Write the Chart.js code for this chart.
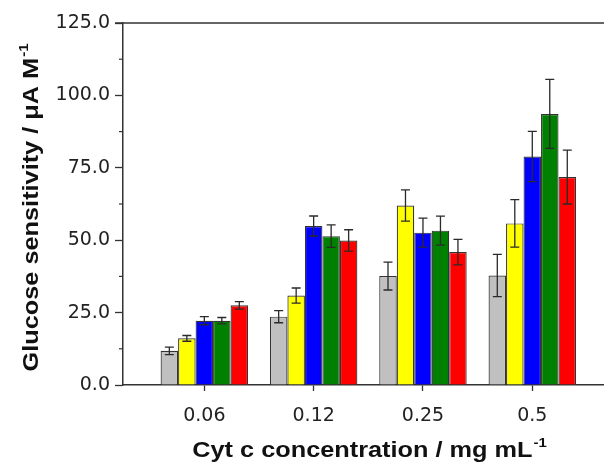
<!DOCTYPE html>
<html>
<head>
<meta charset="utf-8">
<script src="https://cdn.jsdelivr.net/npm/chart.js@4.4.0/dist/chart.umd.min.js"></script>
<style>
  html, body { margin: 0; padding: 0; background: #fff; }
  #wrap { width: 604px; height: 462px; }
</style>
</head>
<body>
<div id="wrap"><canvas id="chartGlucose" width="604" height="462"></canvas></div>
<script>
// concentraciones (eje x)
var concLabels = ['0.06', '0.12', '0.25', '0.5'];
var groupPos = [1, 2, 3, 4];

// valores de cada serie y sus barras de error
var graySeries = [11.8, 23.6, 37.6, 37.8];
var grayErr = [1.3, 2.1, 4.8, 7.3];
var yellowSeries = [16.1, 30.9, 62.0, 55.8];
var yellowErr = [1.0, 2.6, 5.4, 8.2];
var blueSeries = [22.2, 54.9, 52.6, 78.9];
var blueErr = [1.4, 3.45, 5.0, 8.7];
var greenSeries = [22.2, 51.4, 53.3, 93.6];
var greenErr = [1.1, 3.9, 5.0, 11.9];
var redSeries = [27.5, 49.9, 45.9, 71.8];
var redErr = [1.3, 3.7, 4.4, 9.3];

var yTicks = [0, 25, 50, 75, 100, 125];

function toPoints(values) {
    return values.map(function(v, i) { return { x: groupPos[i], y: v }; });
}

function makeSet(values, errs, color) {
    return {
        data: toPoints(values),
        errors: errs,
        backgroundColor: color,
        borderColor: '#333',
        borderWidth: 1.2,
        categoryPercentage: 0.8,
        barPercentage: 1.0
    };
}

// barras de error
var errorBars = {
    id: 'errorBars',
    afterDatasetsDraw: function(chart) {
        var ctx = chart.ctx;
        var yScale = chart.scales.y;
        ctx.save();
        ctx.strokeStyle = '#2a2a2a';
        ctx.lineWidth = 1.3;
        chart.data.datasets.forEach(function(ds, i) {
            var meta = chart.getDatasetMeta(i);
            meta.data.forEach(function(bar, j) {
                var v = ds.data[j].y, e = ds.errors[j];
                var yTop = yScale.getPixelForValue(v + e);
                var yBot = yScale.getPixelForValue(v - e);
                ctx.beginPath();
                ctx.moveTo(bar.x, yTop); ctx.lineTo(bar.x, yBot);
                ctx.moveTo(bar.x - 4.5, yTop); ctx.lineTo(bar.x + 4.5, yTop);
                ctx.moveTo(bar.x - 4.5, yBot); ctx.lineTo(bar.x + 4.5, yBot);
                ctx.stroke();
            });
        });
        ctx.restore();
    }
};

// marco superior, ticks menores y titulos de ejes
var frameAndTitles = {
    id: 'frameAndTitles',
    afterDraw: function(chart) {
        var ctx = chart.ctx;
        var area = chart.chartArea;
        var yScale = chart.scales.y;
        ctx.save();
        ctx.strokeStyle = '#333';
        ctx.lineWidth = 1.5;
        ctx.beginPath();
        ctx.moveTo(area.left - 8, area.top);
        ctx.lineTo(area.right, area.top);
        ctx.stroke();
        // ticks menores
        ctx.lineWidth = 1.2;
        for (var k = 0; k < yTicks.length - 1; k++) {
            var py = yScale.getPixelForValue(yTicks[k] + 12.5);
            ctx.beginPath();
            ctx.moveTo(area.left - 4, py);
            ctx.lineTo(area.left, py);
            ctx.stroke();
        }
        ctx.fillStyle = '#111';
        // titulo eje y
        ctx.save();
        ctx.translate(38, 208);
        ctx.rotate(-Math.PI / 2);
        ctx.scale(1.15, 1);
        drawSupTitle(ctx, 'Glucose sensitivity / \u03bcA M', '-1');
        ctx.restore();
        // titulo eje x
        ctx.save();
        ctx.translate(369, 457);
        ctx.scale(1.15, 1);
        drawSupTitle(ctx, 'Cyt c concentration / mg mL', '-1');
        ctx.restore();
        ctx.restore();
    }
};

function drawSupTitle(ctx, main, sup) {
    var mainFont = 'bold 22px "Liberation Sans", Arial, sans-serif';
    var supFont = 'bold 13px "Liberation Sans", Arial, sans-serif';
    ctx.font = mainFont;
    var w1 = ctx.measureText(main).width;
    ctx.font = supFont;
    var w2 = ctx.measureText(sup).width;
    var x0 = -(w1 + w2) / 2;
    ctx.textBaseline = 'alphabetic';
    ctx.textAlign = 'left';
    ctx.font = mainFont;
    ctx.fillText(main, x0, 0);
    ctx.font = supFont;
    ctx.fillText(sup, x0 + w1 + 1, -10);
}

var tickFont = { family: '"DejaVu Sans", sans-serif', size: 19 };

var ctxGlucose = document.getElementById('chartGlucose').getContext('2d');
new Chart(ctxGlucose, {
    type: 'bar',
    data: {
        datasets: [
            makeSet(graySeries, grayErr, '#c0c0c0'),
            makeSet(yellowSeries, yellowErr, '#ffff00'),
            makeSet(blueSeries, blueErr, '#0000ff'),
            makeSet(greenSeries, greenErr, '#008000'),
            makeSet(redSeries, redErr, '#ff0000')
        ]
    },
    options: {
        responsive: false,
        animation: false,
        layout: { padding: { top: 23, right: 0, bottom: 0, left: 0 } },
        plugins: {
            legend: { display: false },
            tooltip: { enabled: false }
        },
        scales: {
            x: {
                type: 'linear',
                offset: false,
                min: 0.256,
                max: 4.656,
                afterBuildTicks: function(scale) {
                    scale.ticks = groupPos.map(function(v) { return { value: v }; });
                },
                afterFit: function(scale) { scale.height = 77; },
                ticks: {
                    color: '#222',
                    font: tickFont,
                    padding: 14,
                    maxRotation: 0,
                    callback: function(value) { return concLabels[groupPos.indexOf(value)]; }
                },
                grid: { offset: false, drawOnChartArea: false, tickLength: 6, tickColor: '#333', tickWidth: 1.3 },
                border: { color: '#333', width: 1.5 }
            },
            y: {
                min: 0,
                max: 125,
                afterBuildTicks: function(scale) {
                    scale.ticks = yTicks.map(function(v) { return { value: v }; });
                },
                afterFit: function(scale) { scale.width = 123; },
                ticks: {
                    color: '#222',
                    font: tickFont,
                    padding: 5,
                    callback: function(value) { return value.toFixed(1); }
                },
                grid: { drawOnChartArea: false, tickLength: 8, tickColor: '#333', tickWidth: 1.3 },
                border: { color: '#333', width: 1.5 }
            }
        }
    },
    plugins: [errorBars, frameAndTitles]
});
</script>
</body>
</html>
